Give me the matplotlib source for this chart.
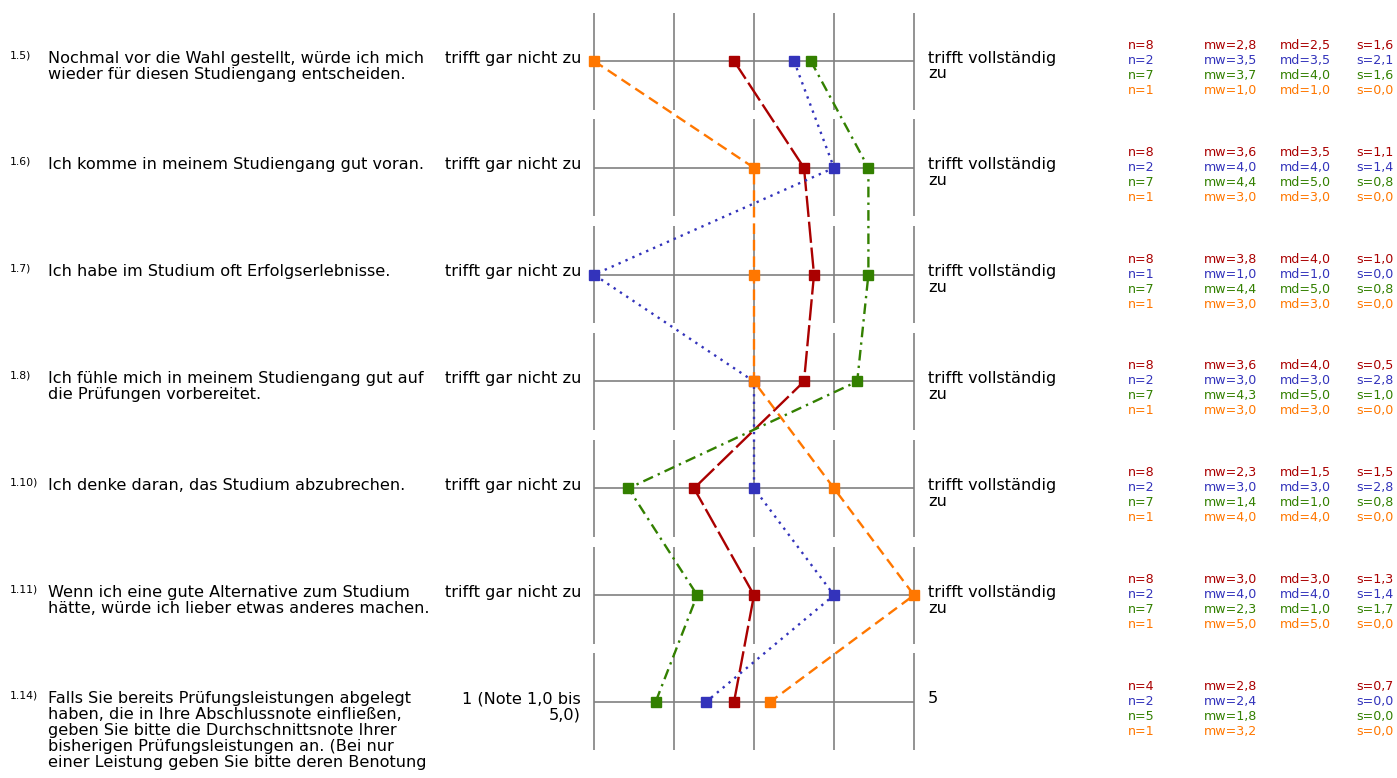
import matplotlib
matplotlib.use('Agg')
import matplotlib.pyplot as plt

plt.rcParams['font.family'] = ['DejaVu Sans']

# ---------------- data ----------------
item_numbers = ['1.5)', '1.6)', '1.7)', '1.8)', '1.10)', '1.11)', '1.14)']
item_texts = [
    'Nochmal vor die Wahl gestellt, würde ich mich\nwieder für diesen Studiengang entscheiden.',
    'Ich komme in meinem Studiengang gut voran.',
    'Ich habe im Studium oft Erfolgserlebnisse.',
    'Ich fühle mich in meinem Studiengang gut auf\ndie Prüfungen vorbereitet.',
    'Ich denke daran, das Studium abzubrechen.',
    'Wenn ich eine gute Alternative zum Studium\nhätte, würde ich lieber etwas anderes machen.',
    'Falls Sie bereits Prüfungsleistungen abgelegt\nhaben, die in Ihre Abschlussnote einfließen,\n'
    'geben Sie bitte die Durchschnittsnote Ihrer\nbisherigen Prüfungsleistungen an. (Bei nur\n'
    'einer Leistung geben Sie bitte deren Benotung',
]
left_poles = ['trifft gar nicht zu'] * 6 + ['1 (Note 1,0 bis\n5,0)']
right_poles = ['trifft vollständig\nzu'] * 6 + ['5']
scale_ticks = [1, 2, 3, 4, 5]

# means per series (plotted positions)
mean_red = [2.75, 3.625, 3.75, 3.625, 2.25, 3.0, 2.75]
mean_blue = [3.5, 4.0, 1.0, 3.0, 3.0, 4.0, 2.4]
mean_green = [3.71, 4.43, 4.43, 4.29, 1.43, 2.29, 1.77]
mean_orange = [1.0, 3.0, 3.0, 3.0, 4.0, 5.0, 3.2]

# statistics shown on the right
n_red = ['8', '8', '8', '8', '8', '8', '4']
n_blue = ['2', '2', '1', '2', '2', '2', '2']
n_green = ['7', '7', '7', '7', '7', '7', '5']
n_orange = ['1', '1', '1', '1', '1', '1', '1']
mw_red = ['2,8', '3,6', '3,8', '3,6', '2,3', '3,0', '2,8']
mw_blue = ['3,5', '4,0', '1,0', '3,0', '3,0', '4,0', '2,4']
mw_green = ['3,7', '4,4', '4,4', '4,3', '1,4', '2,3', '1,8']
mw_orange = ['1,0', '3,0', '3,0', '3,0', '4,0', '5,0', '3,2']
md_red = ['2,5', '3,5', '4,0', '4,0', '1,5', '3,0', None]
md_blue = ['3,5', '4,0', '1,0', '3,0', '3,0', '4,0', None]
md_green = ['4,0', '5,0', '5,0', '5,0', '1,0', '1,0', None]
md_orange = ['1,0', '3,0', '3,0', '3,0', '4,0', '5,0', None]
s_red = ['1,6', '1,1', '1,0', '0,5', '1,5', '1,3', '0,7']
s_blue = ['2,1', '1,4', '0,0', '2,8', '2,8', '1,4', '0,0']
s_green = ['1,6', '0,8', '0,8', '1,0', '0,8', '1,7', '0,0']
s_orange = ['0,0', '0,0', '0,0', '0,0', '0,0', '0,0', '0,0']

# ---------------- styling ----------------
RED, BLUE, GREEN, ORANGE = '#aa0000', '#3333bb', '#338000', '#ff7700'
GRID = '#808080'

series = [
    dict(mean=mean_red, n=n_red, mw=mw_red, md=md_red, s=s_red, color=RED,
         dashes=(9, 2)),
    dict(mean=mean_blue, n=n_blue, mw=mw_blue, md=md_blue, s=s_blue, color=BLUE,
         dashes=(1, 2.2)),
    dict(mean=mean_green, n=n_green, mw=mw_green, md=md_green, s=s_green, color=GREEN,
         dashes=(4.5, 2.2, 1, 2.2)),
    dict(mean=mean_orange, n=n_orange, mw=mw_orange, md=md_orange, s=s_orange, color=ORANGE,
         dashes=(4.5, 2.5)),
]

W, H = 1397, 778
X0PX, UNIT = 594, 80.0
ROW0, ROWPX = 61, 106.83

fig = plt.figure(figsize=(W / 100, H / 100), dpi=100)
ax = fig.add_axes([0, 0, 1, 1])
ax.axis('off')
ax.set_xlim(1 - X0PX / UNIT, 1 + (W - X0PX) / UNIT)
ax.set_ylim((H - ROW0) / ROWPX, -ROW0 / ROWPX)


def xpx(px):
    return 1 + (px - X0PX) / UNIT


def dy(px):
    return px / ROWPX


def lines_text(x, y0, text, spacing_px, **kw):
    for i, line in enumerate(text.split('\n')):
        ax.text(x, y0 + dy(spacing_px * i), line, va='baseline', **kw)


rows = list(range(len(item_texts)))

# grid
for r in rows:
    ax.hlines(r, scale_ticks[0], scale_ticks[-1], color=GRID, lw=1.2, zorder=1)
    ax.vlines(scale_ticks, r - dy(48.5), r + dy(48.5), color=GRID, lw=1.2, zorder=1)

# profile lines
for sr in series:
    ax.plot(sr['mean'], rows, color=sr['color'], lw=1.7, dashes=sr['dashes'],
            marker='s', ms=6.5, mfc=sr['color'], mec=sr['color'], zorder=3)

MAIN_FS = 11.6
LS = 16
for r in rows:
    ax.text(xpx(10), r - dy(3), item_numbers[r], fontsize=7.8, va='baseline', ha='left')
    lines_text(xpx(48), r + dy(1.5), item_texts[r], LS, fontsize=MAIN_FS, ha='left')
    lines_text(xpx(581), r + dy(1.5), left_poles[r], LS, fontsize=MAIN_FS, ha='right')
    lines_text(xpx(928), r + dy(1.5), right_poles[r], LS, fontsize=MAIN_FS, ha='left')
    for k, sr in enumerate(series):
        y = r + dy(-12 + 15 * k)
        kw = dict(fontsize=9.1, va='baseline', ha='left', color=sr['color'])
        ax.text(xpx(1128), y, 'n=' + sr['n'][r], **kw)
        ax.text(xpx(1204), y, 'mw=' + sr['mw'][r], **kw)
        if sr['md'][r] is not None:
            ax.text(xpx(1280), y, 'md=' + sr['md'][r], **kw)
        ax.text(xpx(1356), y, 's=' + sr['s'][r], **kw)

fig.savefig('out.png', dpi=100)
